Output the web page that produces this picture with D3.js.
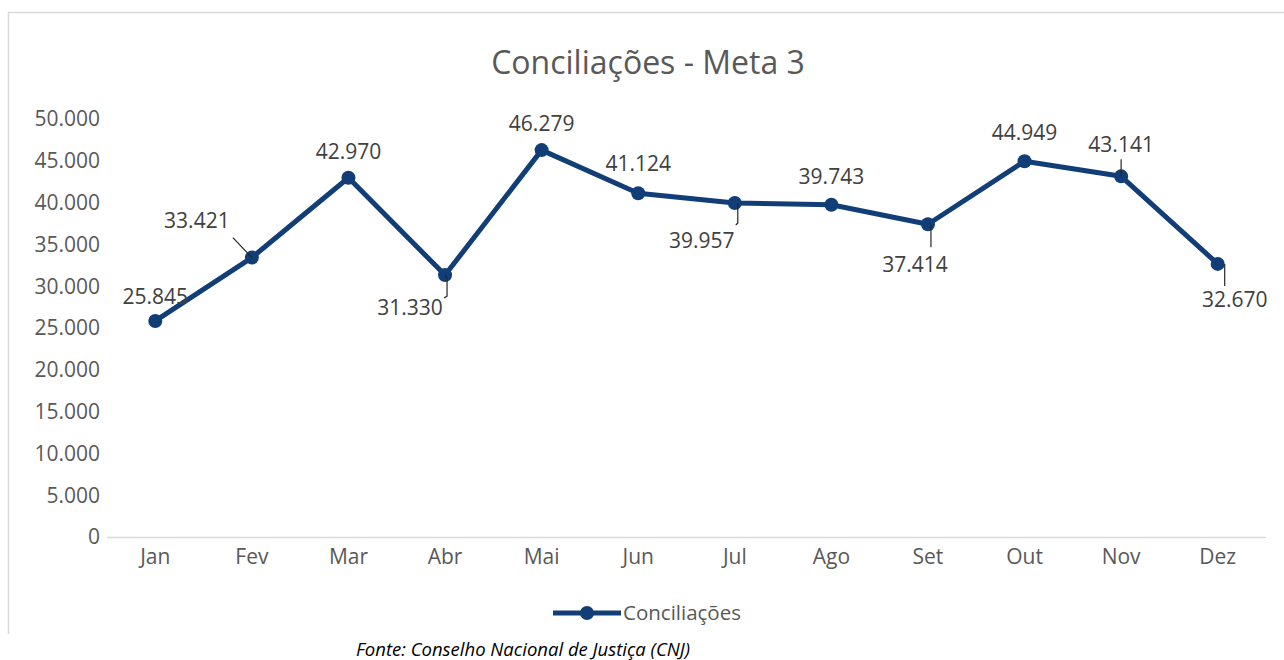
<!DOCTYPE html>
<html>
<head>
<meta charset="utf-8">
<script src="https://cdn.jsdelivr.net/npm/d3@7"></script>
<style>
  body { margin: 0; background: #fff; }
  text { font-family: "Open Sans", sans-serif; }
</style>
</head>
<body>
<svg id="chart" width="1284" height="660"></svg>
<script>
const months = ["Jan", "Fev", "Mar", "Abr", "Mai", "Jun", "Jul", "Ago", "Set", "Out", "Nov", "Dez"];
const conciliacoes = [25845, 33421, 42970, 31330, 46279, 41124, 39957, 39743, 37414, 44949, 43141, 32670];
const yTicks = [0, 5000, 10000, 15000, 20000, 25000, 30000, 35000, 40000, 45000, 50000];
// label placement relative to the point: dx, dy of text, and optional leader line
const labelPos = [
  {dx: 0, dy: -17},
  {dx: -55, dy: -30, lead: [[-19, -20], [0, 0]]},
  {dx: 0, dy: -19},
  {dx: -35, dy: 40, lead: [[0, 0], [2, 3], [2, 21], [-1, 23]]},
  {dx: 0, dy: -19},
  {dx: 0, dy: -22},
  {dx: -33, dy: 45, lead: [[3, 0], [3, 20], [1, 22]]},
  {dx: 0, dy: -21},
  {dx: -13, dy: 48, lead: [[3, 0], [3, 23]]},
  {dx: 0, dy: -21},
  {dx: 0, dy: -24, lead: [[0, -17], [0, 0]]},
  {dx: 17, dy: 43, lead: [[7, 0], [7, 22]]}
];

const svg = d3.select("#chart");
const fmt = d3.formatLocale({decimal: ",", thousands: ".", grouping: [3], currency: ["", ""]}).format(",d");

// chart frame (bottom edge is cut off in the source)
svg.append("path")
  .attr("d", "M8.5,634 V12.5 H1290")
  .attr("fill", "none")
  .attr("stroke", "#d9d9d9")
  .attr("stroke-width", 1.5);

const x = d3.scaleBand().domain(months).range([107, 1266]);
const y = d3.scaleLinear().domain([0, 50000]).range([537, 119]);
const cx = d => x(d) + x.bandwidth() / 2;

svg.append("text")
  .attr("x", 648).attr("y", 74)
  .attr("text-anchor", "middle")
  .attr("font-size", 32)
  .attr("fill", "#595959")
  .text("Conciliações - Meta 3");

// y axis labels
svg.append("g").selectAll("text")
  .data(yTicks)
  .join("text")
  .attr("x", 100)
  .attr("y", d => y(d))
  .attr("dy", "0.35em")
  .attr("text-anchor", "end")
  .attr("font-size", 21)
  .attr("fill", "#595959")
  .text(d => fmt(d));

// x axis
svg.append("line")
  .attr("x1", x.range()[0]).attr("x2", x.range()[1])
  .attr("y1", y(0) + 0.5).attr("y2", y(0) + 0.5)
  .attr("stroke", "#d9d9d9")
  .attr("stroke-width", 1.5);

svg.append("g").selectAll("text")
  .data(months)
  .join("text")
  .attr("x", d => cx(d))
  .attr("y", y(0) + 27)
  .attr("text-anchor", "middle")
  .attr("font-size", 21)
  .attr("fill", "#595959")
  .text(d => d);

const color = "#123e78";
const pts = months.map((m, i) => ({m, v: conciliacoes[i], i}));

svg.append("path")
  .datum(pts)
  .attr("fill", "none")
  .attr("stroke", color)
  .attr("stroke-width", 5)
  .attr("stroke-linejoin", "round")
  .attr("d", d3.line().x(d => cx(d.m)).y(d => y(d.v)));

svg.append("g").selectAll("circle")
  .data(pts)
  .join("circle")
  .attr("cx", d => cx(d.m))
  .attr("cy", d => y(d.v))
  .attr("r", 7)
  .attr("fill", color);

// leader lines
svg.append("g").selectAll("path")
  .data(pts.filter(d => labelPos[d.i].lead))
  .join("path")
  .attr("fill", "none")
  .attr("stroke", "#262626")
  .attr("stroke-width", 1.2)
  .attr("d", d => d3.line()(labelPos[d.i].lead.map(p => [cx(d.m) + p[0], y(d.v) + p[1]])));

// data labels
svg.append("g").selectAll("text")
  .data(pts)
  .join("text")
  .attr("x", d => cx(d.m) + labelPos[d.i].dx)
  .attr("y", d => y(d.v) + labelPos[d.i].dy)
  .attr("text-anchor", "middle")
  .attr("font-size", 21)
  .attr("fill", "#404040")
  .text(d => fmt(d.v));

// legend
const lg = svg.append("g").attr("transform", "translate(553,613)");
lg.append("line").attr("x1", 0).attr("x2", 68).attr("y1", 0).attr("y2", 0)
  .attr("stroke", color).attr("stroke-width", 5);
lg.append("circle").attr("cx", 34).attr("cy", 0).attr("r", 7).attr("fill", color);
lg.append("text").attr("x", 70).attr("y", 0).attr("dy", "0.35em")
  .attr("font-size", 20.5).attr("fill", "#595959").text("Conciliações");

// source
svg.append("text")
  .attr("x", 523).attr("y", 656)
  .attr("text-anchor", "middle")
  .attr("font-size", 18.5)
  .attr("font-style", "italic")
  .attr("fill", "#000")
  .text("Fonte: Conselho Nacional de Justiça (CNJ)");
</script>
</body>
</html>
